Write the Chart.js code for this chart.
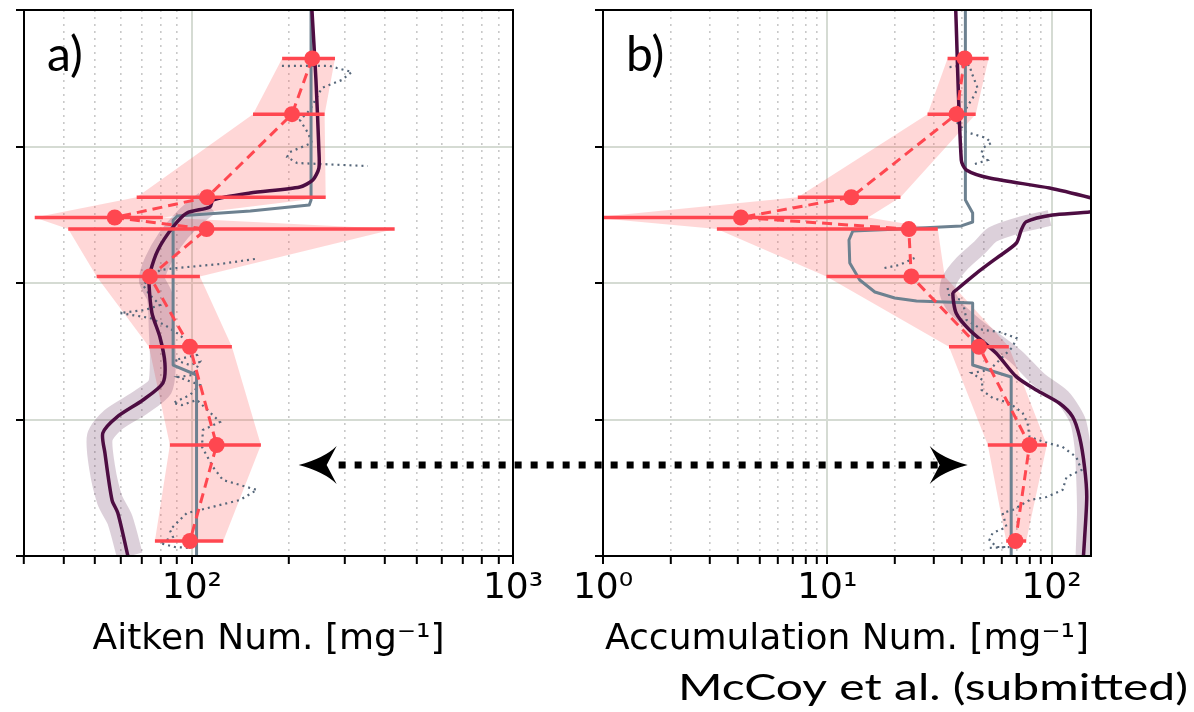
<!DOCTYPE html>
<html>
<head>
<meta charset="utf-8">
<script src="https://cdn.jsdelivr.net/npm/chart.js@4.4.1/dist/chart.umd.min.js"></script>
<style>
  html, body { margin: 0; padding: 0; background: #fff; }
  #wrap { position: relative; width: 1194px; height: 712px; }
  #wrap canvas { position: absolute; left: 0; top: 0; }
</style>
</head>
<body>
<div id="wrap">
  <canvas id="chart-aitken" width="1194" height="712"></canvas>
  <canvas id="chart-accum" width="1194" height="712"></canvas>
</div>
<script>
// flight-leg altitudes (shared by both panels)
const legAlt = [3.645, 3.237, 2.628, 2.48, 2.395, 2.048, 1.533, 0.813, 0.11];

// observed leg means and spread, Aitken mode
const aitkenMean = [237, 205, 111.6, 57.5, 111.1, 74.0, 98.6, 119.4, 98.6];
const aitkenLo = [191, 155, 67.3, 32.4, 41.2, 50.5, 73.5, 85.4, 76.7];
const aitkenHi = [279, 259, 261, 81.2, 428, 105.9, 133.2, 164, 125.2];

// observed leg means and spread, accumulation mode
const accumMean = [41.0, 37.7, 12.8, 4.12, 23.1, 23.7, 47.5, 79.8, 69.1];
const accumLo = [34.4, 28.0, 7.39, 0.9, 3.22, 9.92, 34.9, 52.0, 62.8];
const accumHi = [52.4, 45.9, 21.2, 15.2, 31.1, 33.4, 64.5, 95.3, 77.1];

// model profile (dark line) and its spread
const aitkenModelAlt = [4.0, 3.487, 2.974, 2.842, 2.755, 2.703, 2.659, 2.608, 2.557, 2.513, 2.41, 2.242, 2.073, 2.0, 1.78, 1.604, 1.414, 1.267, 1.143, 1.018, 0.901, 0.755, 0.41, 0.315, 0.0];
const aitkenModel = [236.5, 243.4, 248.6, 248.6, 238, 217, 151.7, 116.3, 113.8, 96.5, 87.3, 78.4, 74.0, 73.5, 75.1, 79.5, 82.4, 81.2, 70.4, 58.4, 52.8, 53.6, 56.4, 58.8, 63.2];
const aitkenBandAlt = [2.586, 2.462, 2.315, 2.147, 2.022, 1.897, 1.656, 1.414, 1.238, 1.121, 0.996, 0.872, 0.652, 0.41, 0.264, 0.0];
const aitkenBand = [111.4, 96.5, 85.4, 77.8, 75.1, 79.5, 80.6, 81.2, 79.5, 68.8, 56.7, 51.7, 52.5, 55.5, 59.7, 64.1];

const accumModelAlt = [4.0, 2.901, 2.828, 2.769, 2.696, 2.623, 2.575, 2.522, 2.498, 2.449, 2.388, 2.291, 2.181, 2.071, 1.949, 1.925, 1.778, 1.656, 1.485, 1.314, 1.216, 1.119, 1.021, 0.874, 0.654, 0.434, 0.117, 0.0];
const accumModel = [37.4, 39.6, 41.7, 52.9, 98.0, 150.2, 190, 150.2, 101, 77.1, 73.3, 69.6, 56.7, 46.2, 37.6, 36.3, 37.6, 43.1, 56.7, 69.6, 85.5, 108.5, 124.1, 133.3, 140.3, 143.6, 140.3, 138.8];
const accumBandAlt = [2.476, 2.425, 2.355, 2.260, 2.147, 2.022, 1.927, 1.824, 1.692, 1.582, 1.458, 1.289, 1.165, 0.996, 0.799, 0.557, 0.315, 0.0];
const accumBand = [98.0, 72.0, 54.6, 47.8, 40.1, 35.1, 34.4, 37.0, 45.4, 55.7, 69.8, 88.4, 112, 130.5, 137.5, 140, 141, 139];

// second model (stepped grey line)
const aitkenStepAlt = [4.0, 2.608, 2.571, 2.527, 2.491, 2.46, 1.399, 1.326, 0.0];
const aitkenStep = [235, 235, 232, 152, 90, 87.4, 87.4, 103.4, 103.4];
const accumStepAlt = [4.0, 2.608, 2.513, 2.447, 2.418, 2.396, 2.381, 2.315, 2.147, 2.022, 1.934, 1.890, 1.868, 1.853, 1.399, 1.311, 0.0];
const accumStep = [41.3, 41.3, 44.5, 44.5, 39.6, 21.0, 13.0, 12.5, 12.6, 13.96, 16.3, 20.0, 25.0, 44.5, 44.5, 66.1, 66.1];

// high-rate profile (dotted), null = gap
const aitkenProfAlt = [3.590, 3.590, 3.575, 3.546, 3.487, 3.429, 3.267, 3.194, 3.099, 3.026, 2.960, 2.923, 2.879, 2.857, null,
  2.176, 2.139, 2.110, 2.095, 1.985, 1.912, 1.839, 1.802, 1.780, 1.744, 1.692, 1.619, 1.546, 1.473, 1.436, 1.399, 1.421, 1.326, 1.311, 1.253,
  1.179, 1.121, 1.106, 1.143, 0.982, 0.923, 0.799, 0.652, 0.557, 0.484, 0.410, 0.337, 0.315, 0.264, 0.190, 0.139, 0.095, 0.066, 0.059];
const aitkenProf = [190.7, 269, 282.9, 315, 293, 254, 233, 217, 230, 236.5, 202, 197.9, 212.6, 353, null,
  157.1, 122.3, 89.8, 79.5, 70.4, 74.0, 79.5, 71.4, 59.7, 74.0, 82.4, 91.7, 98.6, 103.7, 88.5, 98.6, 105.9, 100.7, 90.5, 105.9,
  98.6, 87.3, 93.1, 103.7, 122.3, 108.2, 107.5, 116.3, 124.9, 159.4, 141.1, 105.9, 96.5, 91.7, 85.4, 87.3, 79.5, 88.5, 98.6];
const accumProfAlt = [3.582, 3.597, 3.546, 3.429, 3.377, 3.341, 3.172, 3.106, 3.062, 3.026, 2.989, 2.938, 2.901, 2.864, null,
  2.110, 2.132, 2.183, null,
  1.963, 1.897, 1.875, 1.729, 1.656, 1.641, 1.597, 1.531, 1.458, 1.363, 1.341, 1.289, 1.216, 1.158, 1.121, 1.048, 0.974, 0.872,
  0.828, 0.799, 0.725, 0.630, 0.579, 0.484, 0.432, 0.410, 0.337, 0.315, 0.212, 0.168, 0.117, 0.066, 0.066, 0.059];
const accumProf = [35.1, 43.1, 43.9, 46.8, 45.4, 43.9, 38.1, 41.7, 51.2, 53.9, 49.3, 48.6, 51.9, 43.9, null,
  18.0, 21.0, 24.5, null,
  34.4, 35.1, 40.1, 41.8, 49.3, 58.7, 69.8, 67.1, 60.5, 52.9, 44.0, 49.3, 48.8, 54.6, 65.0, 74.3, 78.2, 79.8,
  96.0, 112, 129, 136, 116.7, 112, 95.0, 79.8, 67.1, 60.5, 63.0, 54.6, 52.9, 56.9, 65.0, 51.3];

// axis ticks
const aitkenTicks = [30, 40, 50, 60, 70, 80, 90, 100, 200, 300, 400, 500, 600, 700, 800, 900, 1000];
const accumTicks = [1, 2, 3, 4, 5, 6, 7, 8, 9, 10, 20, 30, 40, 50, 60, 70, 80, 90, 100];
const decadeLabels = { 1: '10⁰', 10: '10¹', 100: '10²', 1000: '10³' };

// arrow linking the two panels
const arrowAlt = 0.667;
const arrowFrom = 215;
const arrowTo = 42.3;

const colors = {
  obs: '#ff4750',
  obsFill: 'rgba(255, 88, 88, 0.24)',
  model: '#4d0d42',
  modelBand: 'rgba(95, 40, 85, 0.22)',
  step: '#6d8190',
  prof: '#56677a',
  gridMajor: '#d5dbd3',
  gridMinor: '#c9c9c9',
};

Chart.defaults.font.family = "'DejaVu Sans', sans-serif";
Chart.defaults.font.size = 36;
Chart.defaults.color = '#000';

const isDecade = (v) => Math.abs(Math.log10(v) - Math.round(Math.log10(v))) < 1e-9;
const xy = (xs, ys) => xs.map((x, i) => ({ x, y: ys[i] }));
const errorBars = (lo, hi, ys) => ys.flatMap((y, i) => [{ x: lo[i], y }, { x: hi[i], y }, { x: null, y: null }]);
const envelope = (lo, hi, ys) => xy(lo, ys).concat(xy(hi, ys).reverse());

const lineBase = { showLine: true, pointRadius: 0, pointHoverRadius: 0, clip: 0, spanGaps: false };

const buildDatasets = (mean, lo, hi, model, modelAlt, band, bandAlt, bandWidth, step, stepAlt, prof, profAlt) => [
  { ...lineBase, data: xy(mean, legAlt), borderColor: colors.obs, borderWidth: 3, borderDash: [10, 6],
    pointRadius: 8, pointBackgroundColor: colors.obs, pointBorderWidth: 0 },
  { ...lineBase, data: errorBars(lo, hi, legAlt), borderColor: colors.obs, borderWidth: 3.5 },
  { ...lineBase, data: xy(model, modelAlt), borderColor: colors.model, borderWidth: 3.5, tension: 0.25 },
  { ...lineBase, data: xy(step, stepAlt), borderColor: colors.step, borderWidth: 3, borderJoinStyle: 'round' },
  { ...lineBase, data: xy(prof, profAlt), borderColor: colors.prof, borderWidth: 2.2, borderDash: [2, 4] },
  { ...lineBase, data: xy(band, bandAlt), borderColor: colors.modelBand, borderWidth: bandWidth, tension: 0.25 },
  { ...lineBase, showLine: false, data: envelope(lo, hi, legAlt), envelope: colors.obsFill },
];

// shaded spread of the observations, filled through the points placed by the scales
const envelopeFill = {
  id: 'envelopeFill',
  beforeDatasetsDraw(chart) {
    const { ctx, chartArea: a } = chart;
    chart.data.datasets.forEach((ds, i) => {
      if (!ds.envelope) return;
      const pts = chart.getDatasetMeta(i).data;
      ctx.save();
      ctx.beginPath();
      ctx.rect(a.left, a.top, a.right - a.left, a.bottom - a.top);
      ctx.clip();
      ctx.beginPath();
      pts.forEach((p, k) => (k ? ctx.lineTo(p.x, p.y) : ctx.moveTo(p.x, p.y)));
      ctx.closePath();
      ctx.fillStyle = ds.envelope;
      ctx.fill();
      ctx.restore();
    });
  },
};

const frame = {
  id: 'frame',
  afterDraw(chart) {
    const { ctx, chartArea: a } = chart;
    ctx.save();
    ctx.strokeStyle = '#000';
    ctx.lineWidth = 2;
    ctx.strokeRect(a.left, a.top, a.right - a.left, a.bottom - a.top);
    ctx.restore();
  },
};

const panelText = {
  id: 'panelText',
  afterDraw(chart, args, opts) {
    const { ctx, chartArea } = chart;
    ctx.save();
    ctx.fillStyle = '#000';
    ctx.font = '48px Lato, sans-serif';
    ctx.fillText(opts.label, chartArea.left + 23, chartArea.top + 61);
    if (opts.credit) {
      ctx.font = '37px Lato, sans-serif';
      const w = ctx.measureText(opts.credit).width;
      ctx.translate(chart.width - 6, chart.height - 12);
      ctx.scale(510 / w, 1);
      ctx.textAlign = 'right';
      ctx.fillText(opts.credit, 0, 0);
    }
    ctx.restore();
  },
};

const xAxis = (min, max, tickVals, title) => ({
  type: 'logarithmic',
  min,
  max,
  afterBuildTicks: (s) => { s.ticks = tickVals.map((v) => ({ value: v })); },
  afterFit: (s) => { s.height = 156; },
  ticks: { autoSkip: false, maxRotation: 0, padding: 3, callback: (v) => decadeLabels[v] || '' },
  grid: {
    color: (c) => (c.tick && isDecade(c.tick.value) ? colors.gridMajor : colors.gridMinor),
    lineWidth: (c) => (c.tick && isDecade(c.tick.value) ? 2 : 1.6),
    tickColor: '#000',
    tickLength: 8,
    tickWidth: 2,
  },
  border: { color: '#000', width: 2, dash: (c) => (c.tick && !isDecade(c.tick.value) ? [2, 5] : []) },
  title: { display: true, text: title, padding: { top: 0, bottom: 51 } },
});

const yAxis = () => ({
  min: 0,
  max: 4,
  afterFit: (s) => { s.width = 24; },
  ticks: { stepSize: 1, font: { size: 1 }, callback: () => '' },
  grid: { color: colors.gridMajor, lineWidth: 2, tickColor: '#000', tickLength: 8, tickWidth: 2 },
  border: { color: '#000', width: 2 },
});

const baseOptions = (padding, x, label, credit) => ({
  responsive: false,
  devicePixelRatio: 1,
  animation: false,
  events: [],
  layout: { padding },
  plugins: { legend: { display: false }, tooltip: { enabled: false }, panelText: { label, credit } },
  scales: { x, y: yAxis() },
});

const aitkenChart = new Chart(document.getElementById('chart-aitken'), {
  type: 'scatter',
  data: {
    datasets: buildDatasets(aitkenMean, aitkenLo, aitkenHi, aitkenModel, aitkenModelAlt, aitkenBand, aitkenBandAlt, 26,
      aitkenStep, aitkenStepAlt, aitkenProf, aitkenProfAlt),
  },
  options: baseOptions({ left: 0, right: 681, top: 10, bottom: 0 },
    xAxis(30, 1000, aitkenTicks, 'Aitken Num. [mg⁻¹]'), 'a)'),
  plugins: [envelopeFill, frame, panelText],
});

// dotted double arrow between the panels, drawn last on the top canvas
const arrowLink = {
  id: 'arrowLink',
  afterDraw(chart) {
    const { ctx } = chart;
    const y = chart.scales.y.getPixelForValue(arrowAlt);
    const xLeft = aitkenChart.scales.x.getPixelForValue(arrowFrom);
    const xRight = chart.scales.x.getPixelForValue(arrowTo);
    ctx.save();
    ctx.strokeStyle = '#000';
    ctx.fillStyle = '#000';
    ctx.lineWidth = 7;
    ctx.setLineDash([7, 9]);
    ctx.beginPath();
    ctx.moveTo(xLeft + 40, y);
    ctx.lineTo(xRight - 30, y);
    ctx.stroke();
    ctx.setLineDash([]);
    [[xLeft, 1], [xRight, -1]].forEach(([tip, dir]) => {
      ctx.beginPath();
      ctx.moveTo(tip, y);
      ctx.quadraticCurveTo(tip + dir * 26, y - 7, tip + dir * 38, y - 19);
      ctx.lineTo(tip + dir * 28, y);
      ctx.lineTo(tip + dir * 38, y + 19);
      ctx.quadraticCurveTo(tip + dir * 26, y + 7, tip, y);
      ctx.fill();
    });
    ctx.restore();
  },
};

const accumChart = new Chart(document.getElementById('chart-accum'), {
  type: 'scatter',
  data: {
    datasets: buildDatasets(accumMean, accumLo, accumHi, accumModel, accumModelAlt, accumBand, accumBandAlt, 16,
      accumStep, accumStepAlt, accumProf, accumProfAlt),
  },
  options: baseOptions({ left: 579, right: 103, top: 10, bottom: 0 },
    xAxis(1, 150, accumTicks, 'Accumulation Num. [mg⁻¹]'), 'b)', 'McCoy et al. (submitted)'),
  plugins: [envelopeFill, frame, panelText, arrowLink],
});
</script>
</body>
</html>
